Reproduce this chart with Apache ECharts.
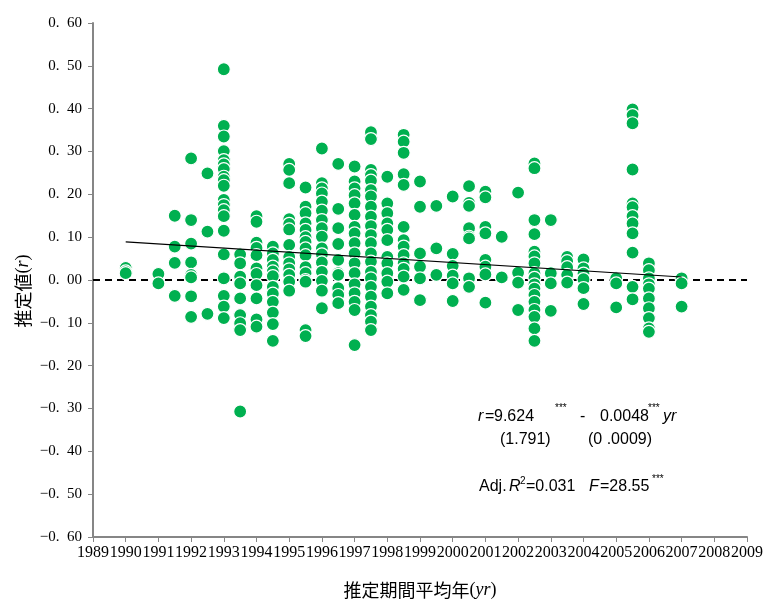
<!DOCTYPE html>
<html>
<head>
<meta charset="utf-8">
<script src="https://cdn.jsdelivr.net/npm/echarts@6/dist/echarts.min.js"></script>
<style>
html,body{margin:0;padding:0;background:#fff;}
#chart{width:766px;height:605px;}
</style>
</head>
<body>
<div id="chart"></div>
<script>
// ---- data ----
const columnYears = [1990, 1991, 1991.5, 1992, 1992.5, 1993, 1993.5, 1994, 1994.5, 1995, 1995.5, 1996, 1996.5, 1997, 1997.5, 1998, 1998.5, 1999, 1999.5, 2000, 2000.5, 2001, 2001.5, 2002, 2002.5, 2003, 2003.5, 2004, 2005, 2005.5, 2006, 2007];
const columnValues = [
  [0.028, 0.020, 0.016],
  [0.014, -0.008],
  [0.150, 0.078, 0.040, -0.037],
  [0.284, 0.140, 0.085, 0.041, 0.012, 0.006, -0.038, -0.086],
  [0.249, 0.113, -0.079],
  [0.492, 0.360, 0.335, 0.301, 0.280, 0.270, 0.259, 0.241, 0.233, 0.220, 0.187, 0.175, 0.163, 0.149, 0.115, 0.060, 0.004, -0.037, -0.062, -0.089],
  [0.060, 0.039, 0.008, -0.008, -0.043, -0.082, -0.101, -0.117, -0.307],
  [0.149, 0.136, 0.087, 0.075, 0.058, 0.027, 0.014, -0.012, -0.043, -0.092, -0.109],
  [0.078, 0.062, 0.047, 0.031, 0.020, 0.009, -0.016, -0.032, -0.051, -0.076, -0.103, -0.142],
  [0.271, 0.257, 0.226, 0.142, 0.131, 0.118, 0.082, 0.054, 0.039, 0.025, 0.012, -0.004, -0.025],
  [0.216, 0.171, 0.156, 0.132, 0.117, 0.100, 0.089, 0.074, 0.058, 0.030, 0.016, 0.000, -0.004, -0.117, -0.131],
  [0.307, 0.226, 0.214, 0.202, 0.183, 0.162, 0.140, 0.121, 0.101, 0.074, 0.060, 0.041, 0.019, -0.002, -0.025, -0.066],
  [0.271, 0.166, 0.121, 0.084, 0.047, 0.016, 0.012, -0.019, -0.035, -0.054],
  [0.265, 0.230, 0.214, 0.198, 0.179, 0.152, 0.124, 0.109, 0.086, 0.062, 0.039, 0.016, -0.010, -0.031, -0.051, -0.070, -0.152],
  [0.345, 0.329, 0.257, 0.245, 0.232, 0.210, 0.195, 0.171, 0.148, 0.126, 0.105, 0.086, 0.062, 0.043, 0.019, 0.004, -0.016, -0.039, -0.062, -0.082, -0.097, -0.117],
  [0.241, 0.179, 0.156, 0.132, 0.117, 0.093, 0.054, 0.039, 0.016, -0.004, -0.031],
  [0.339, 0.323, 0.297, 0.247, 0.222, 0.124, 0.093, 0.078, 0.058, 0.039, 0.026, 0.008, -0.023],
  [0.230, 0.171, 0.062, 0.031, 0.004, -0.047],
  [0.173, 0.074, 0.012],
  [0.195, 0.061, 0.033, 0.010, -0.008, -0.049],
  [0.219, 0.180, 0.173, 0.121, 0.101, 0.097, 0.004, -0.016],
  [0.206, 0.193, 0.124, 0.109, 0.047, 0.031, 0.013, -0.053],
  [0.101, 0.006],
  [0.204, 0.017, -0.006, -0.070],
  [0.272, 0.261, 0.140, 0.107, 0.066, 0.055, 0.039, 0.016, 0.005, -0.010, -0.020, -0.035, -0.051, -0.070, -0.086, -0.113, -0.142],
  [0.140, 0.016, -0.008, -0.072],
  [0.054, 0.044, 0.030, 0.012, -0.006],
  [0.048, 0.027, 0.015, 0.002, -0.019, -0.056],
  [0.004, -0.008, -0.064],
  [0.398, 0.385, 0.366, 0.258, 0.179, 0.170, 0.149, 0.132, 0.109, 0.064, -0.016, -0.045],
  [0.039, 0.023, 0.004, -0.010, -0.020, -0.043, -0.066, -0.089, -0.113, -0.121],
  [0.004, -0.008, -0.062]
];
const trendYears = [1990, 2007];
const trendValues = [0.089, 0.007];
const zeroLineYears = [1989, 2009];
const zeroLineValues = [0, 0];

const xTitle = '推定期間平均年';
const yTitle = '推定値';

// ---- build ----
const scatterData = [];
columnYears.forEach((yr, i) => columnValues[i].forEach(v => scatterData.push([yr, v])));

const chart = echarts.init(document.getElementById('chart'), null, {renderer: 'canvas'});
const sansAnn = 'Liberation Sans';
const annSize = 16;
function t(x, y, text, opts) {
  return Object.assign({
    type: 'text', x: x, y: y,
    style: Object.assign({text: text, fill: '#000', font: annSize + 'px "' + sansAnn + '"', verticalAlign: 'middle', align: 'left'}, opts || {})
  });
}
function fontStr(size, family, italic) {
  return (italic ? 'italic ' : '') + size + 'px ' + family;
}
chart.setOption({
  animation: false,
  grid: {left: 93, right: 19, top: 23, bottom: 68, containLabel: false},
  xAxis: {
    type: 'value', min: 1989, max: 2009, interval: 1,
    axisLine: {show: true, onZero: false, lineStyle: {color: '#868686', width: 2}},
    axisTick: {show: true, length: 5, lineStyle: {color: '#868686', width: 1}},
    axisLabel: {show: true, interval: 0, margin: 8, color: '#000', fontFamily: 'Liberation Serif', fontSize: 16, formatter: v => String(v)},
    splitLine: {show: false}
  },
  yAxis: {
    type: 'value', min: -0.6, max: 0.6, interval: 0.1,
    axisLine: {show: true, onZero: false, lineStyle: {color: '#868686', width: 2}},
    axisTick: {show: true, length: 5, lineStyle: {color: '#868686', width: 1}},
    axisLabel: {color: '#000', fontFamily: 'Liberation Serif', fontSize: 15, margin: 11,
      formatter: v => { const s = Math.abs(v).toFixed(2).replace('.', '.\u2002'); return (v < -1e-9 ? '\u2212' : '') + s; }},
    splitLine: {show: false}
  },
  series: [
    {
      type: 'line', data: zeroLineYears.map((x, i) => [x, zeroLineValues[i]]),
      symbol: 'none', lineStyle: {color: '#000', width: 2, type: [7, 5]}, z: 1, silent: true
    },
    {
      type: 'scatter', data: scatterData, symbol: 'circle', symbolSize: 13,
      itemStyle: {color: '#00B050', borderColor: '#fff', borderWidth: 1.2, opacity: 1}, z: 2
    },
    {
      type: 'line', data: trendYears.map((x, i) => [x, trendValues[i]]),
      symbol: 'none', lineStyle: {color: '#000', width: 1.2}, z: 3, silent: true
    }
  ],
  graphic: [
    // y title (rotated)
    {type: 'group', x: 23, y: 291, rotation: Math.PI / 2, children: [
      {type: 'text', x: 0, y: 0, style: {
        text: '{a|' + yTitle + '}{b|(}{c|r}{b|)}',
        align: 'center', verticalAlign: 'middle',
        rich: {
          a: {fontFamily: 'Noto Sans CJK JP', fontSize: 18, fill: '#000'},
          b: {fontFamily: 'Liberation Serif', fontSize: 18, fill: '#000'},
          c: {fontFamily: 'Liberation Serif', fontStyle: 'italic', fontSize: 18, fill: '#000'}
        }
      }}
    ]},
    // x title
    {type: 'text', x: 420, y: 590, style: {
      text: '{a|' + xTitle + '}{b|(}{c|yr}{b|)}',
      align: 'center', verticalAlign: 'middle',
      rich: {
        a: {fontFamily: 'Noto Sans CJK JP', fontSize: 18, fill: '#000'},
        b: {fontFamily: 'Liberation Serif', fontSize: 18, fill: '#000'},
        c: {fontFamily: 'Liberation Serif', fontStyle: 'italic', fontSize: 18, fill: '#000'}
      }
    }},
    // equation line 1
    t(478, 417, 'r', {font: fontStr(annSize, '"Liberation Sans"', true)}),
    t(485, 417, '= '),
    t(494, 417, '9.624'),
    t(555, 408, '***', {font: '10px "Liberation Sans"'}),
    t(580, 417, '-'),
    t(600, 417, '0.0048'),
    t(648, 408, '***', {font: '10px "Liberation Sans"'}),
    t(663, 417, 'yr', {font: fontStr(annSize, '"Liberation Sans"', true)}),
    // line 2
    t(500, 440, '(1.791)'),
    t(588, 440, '(0 .0009)'),
    // line 3
    t(479, 487, 'Adj.'),
    t(509, 487, 'R', {font: fontStr(annSize, '"Liberation Sans"', true)}),
    t(520, 481, '2', {font: '10px "Liberation Sans"'}),
    t(526, 487, '=0.031'),
    t(589, 487, 'F', {font: fontStr(annSize, '"Liberation Sans"', true)}),
    t(600, 487, '=28.55'),
    t(652, 479, '***', {font: '10px "Liberation Sans"'})
  ]
});
</script>
</body>
</html>
